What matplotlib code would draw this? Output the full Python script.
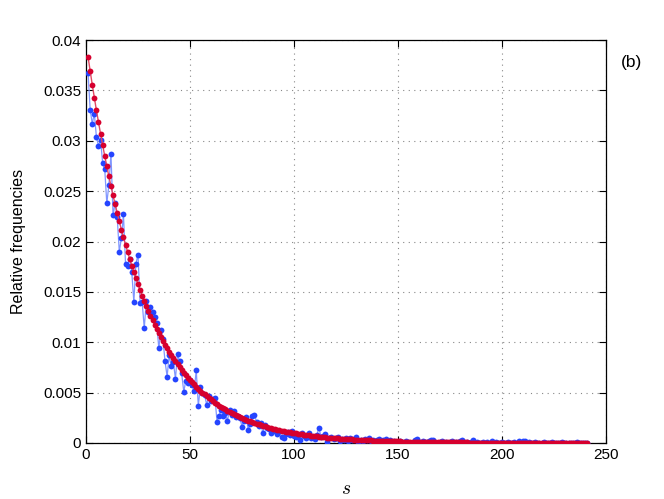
import numpy as np
import matplotlib
matplotlib.use('Agg')
import matplotlib.pyplot as plt

plt.rcParams['font.family'] = ['Liberation Sans', 'DejaVu Sans']
plt.rcParams['mathtext.fontset'] = 'cm'

# values in units of 1e-4, s = 1..241
observed_e4 = [
    367, 331, 317, 327, 304, 295, 301, 278, 272, 238,
    256, 287, 226, 238, 224, 190, 203, 227, 178, 176,
    183, 170, 140, 178, 187, 139, 140, 114, 141, 130,
    135, 130, 125, 119, 94, 112, 103, 81, 66, 87,
    76, 80, 64, 88, 81, 69, 51, 62, 60, 63,
    58, 52, 72, 37, 56, 50, 48, 38, 47, 42,
    44, 45, 21, 27, 33, 27, 30, 22, 33, 28,
    32, 26, 27, 25, 16, 22, 26, 13, 19, 27,
    28, 21, 17, 20, 10, 18, 15, 14, 10, 12,
    13, 9, 12, 6, 5, 9, 11, 8, 12, 7,
    6, 8, 3, 10, 7, 5, 10, 5, 6, 4,
    8, 15, 6, 7, 9, 1, 5, 6, 4, 5,
    6, 2, 4, 3, 5, 2, 5, 3, 4, 6,
    1, 3, 2, 4, 3, 5, 2, 3, 1, 3,
    4, 2, 3, 4, 2, 3, 1, 2, 0, 1,
    2, 1, 0, 2, 1, 0, 1, 3, 4, 1,
    0, 2, 1, 0, 2, 3, 3, 1, 0, 1,
    2, 0, 1, 0, 1, 2, 0, 1, 0, 2,
    3, 0, 1, 0, 1, 3, 0, 1, 0, 0,
    1, 0, 1, 0, 2, 0, 1, 0, 0, 1,
    0, 0, 1, 0, 0, 1, 0, 2, 0, 2,
    2, 0, 1, 0, 0, 1, 0, 0, 0, 1,
    0, 0, 0, 1, 0, 0, 0, 0, 1, 0,
    0, 0, 0, 0, 0, 1, 0, 0, 0, 0,
    0,
]

fitted_e4 = [
    383, 369.1, 355.7, 342.8, 330.3, 318.3, 306.8, 295.6, 284.9, 274.5,
    264.6, 255.0, 245.7, 236.8, 228.2, 219.9, 211.9, 204.2, 196.8, 189.6,
    182.8, 176.1, 169.7, 163.6, 157.6, 151.9, 146.4, 141.1, 135.9, 131.0,
    126.2, 121.6, 117.2, 113.0, 108.9, 104.9, 101.1, 97.4, 93.9, 90.5,
    87.2, 84.0, 81.0, 78.0, 75.2, 72.5, 69.8, 67.3, 64.9, 62.5,
    60.2, 58.1, 55.9, 53.9, 52.0, 50.1, 48.3, 46.5, 44.8, 43.2,
    41.6, 40.1, 38.6, 37.2, 35.9, 34.6, 33.3, 32.1, 30.9, 29.8,
    28.8, 27.7, 26.7, 25.7, 24.8, 23.9, 23.0, 22.2, 21.4, 20.6,
    19.9, 19.1, 18.4, 17.8, 17.1, 16.5, 15.9, 15.3, 14.8, 14.2,
    13.7, 13.2, 12.7, 12.3, 11.8, 11.4, 11.0, 10.6, 10.2, 9.8,
    9.5, 9.1, 8.8, 8.5, 8.2, 7.9, 7.6, 7.3, 7.0, 6.8,
    6.5, 6.3, 6.1, 5.9, 5.6, 5.4, 5.2, 5.1, 4.9, 4.7,
    4.5, 4.4, 4.2, 4.0, 3.9, 3.8, 3.6, 3.5, 3.4, 3.2,
    3.1, 3.0, 2.9, 2.8, 2.7, 2.6, 2.5, 2.4, 2.3, 2.2,
    2.2, 2.1, 2.0, 1.9, 1.9, 1.8, 1.7, 1.7, 1.6, 1.5,
    1.5, 1.4, 1.4, 1.3, 1.3, 1.2, 1.2, 1.2, 1.1, 1.1,
    1.0, 1.0, 1.0, 0.9, 0.9, 0.9, 0.8, 0.8, 0.8, 0.7,
    0.7, 0.7, 0.7, 0.6, 0.6, 0.6, 0.6, 0.5, 0.5, 0.5,
    0.5, 0.5, 0.5, 0.4, 0.4, 0.4, 0.4, 0.4, 0.4, 0.4,
    0.3, 0.3, 0.3, 0.3, 0.3, 0.3, 0.3, 0.3, 0.3, 0.2,
    0.2, 0.2, 0.2, 0.2, 0.2, 0.2, 0.2, 0.2, 0.2, 0.2,
    0.2, 0.2, 0.2, 0.1, 0.1, 0.1, 0.1, 0.1, 0.1, 0.1,
    0.1, 0.1, 0.1, 0.1, 0.1, 0.1, 0.1, 0.1, 0.1, 0.1,
    0.1, 0.1, 0.1, 0.1, 0.1, 0.1, 0.1, 0.1, 0.1, 0.1,
    0.05,
]

s = np.arange(1, len(observed_e4) + 1)
observed = np.array(observed_e4) * 1e-4
fitted = np.array(fitted_e4) * 1e-4

fig = plt.figure(figsize=(6.64, 4.99), dpi=100)
ax = fig.add_axes([86 / 664, 1 - 443 / 499, 520 / 664, 403 / 499])

# noisy measured frequencies
ax.plot(s, observed, '-', color='#8096ff', lw=0.9, zorder=2)
ax.plot(s, observed, 'o', color='#2545ff', ms=4.2, mec='none', zorder=3)
# smooth fitted curve
ax.plot(s, fitted, '-', color='#e24a64', lw=1.0, zorder=4)
ax.plot(s, fitted, 'o', color='#d6002e', ms=4.2, mec='none', zorder=5)

ax.set_xlim(0, 250)
ax.set_ylim(0, 0.04)
ax.set_xticks(np.arange(0, 251, 50))
ax.set_yticks(np.arange(0, 0.0401, 0.005))
ax.set_yticklabels(['0', '0.005', '0.01', '0.015', '0.02', '0.025',
                    '0.03', '0.035', '0.04'])
ax.tick_params(direction='in', top=True, right=True, length=5,
               labelsize=11, width=0.8)
ax.grid(True, linestyle=(0, (1, 4)), color='#888888', lw=0.8)
for sp in ax.spines.values():
    sp.set_linewidth(0.9)

ax.set_ylabel('Relative frequencies', fontsize=11.5, labelpad=12)
ax.set_xlabel('$s$', fontsize=14, labelpad=14)
fig.text(632 / 664, 1 - 63 / 499, '(b)', fontsize=12.5, ha='center', va='center')

fig.savefig('out.png', dpi=100)
